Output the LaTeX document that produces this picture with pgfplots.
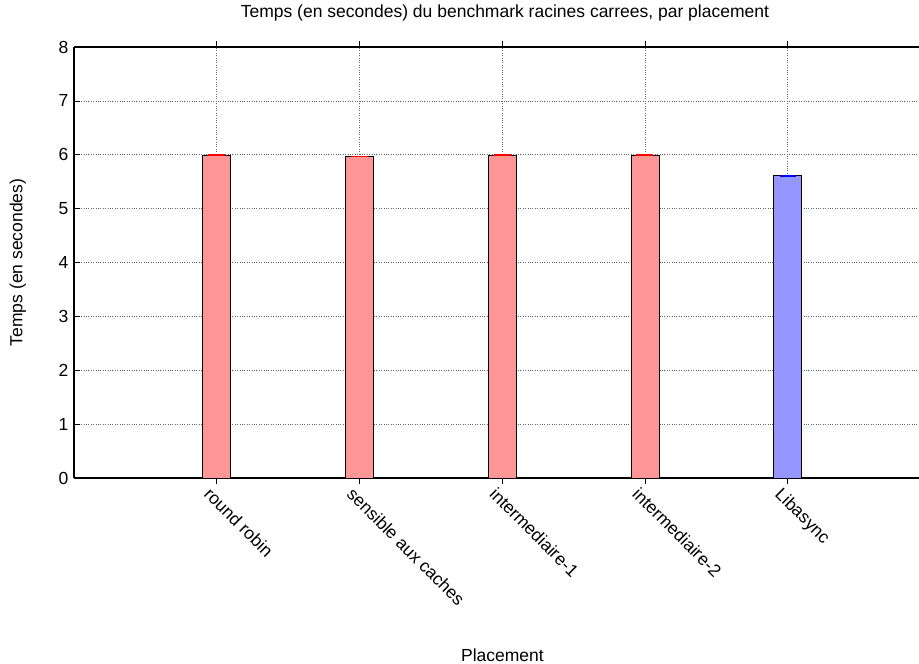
\documentclass[border=0pt]{standalone}
\usepackage{fontspec}
\setmainfont{Liberation Sans}
\usepackage{pgfplots}
\pgfplotsset{compat=1.18}
\definecolor{barred}{RGB}{255,150,150}
\definecolor{barblue}{RGB}{150,150,255}
\newcommand{\chartfont}{\fontsize{17.5}{20}\selectfont}
\begin{document}
\begin{tikzpicture}
\begin{axis}[
  scale only axis,
  width=845pt, height=431pt,
  xmin=-1, xmax=4.92,
  ymin=0, ymax=8,
  ytick={0,1,...,8},
  xtick={0,1,2,3,4},
  xticklabels={round robin, sensible aux caches, intermediaire-1, intermediaire-2, Libasync},
  axis x line=box,
  axis y line*=left,
  axis line style={line width=1.2pt},
  tick style={black, line width=0.6pt},
  major tick length=6pt,
  tick align=inside,
  grid=major,
  major grid style={dotted, black!60, line width=0.6pt},
  font=\chartfont,
  /pgf/number format/assume math mode=true,
  yticklabel style={font=\chartfont, xshift=-2pt},
  xticklabel style={xshift=-16pt, yshift=-9pt, rotate=-45, anchor=base west, font=\chartfont},
  title={Temps (en secondes) du benchmark racines carrees, par placement},
  title style={at={(axis description cs:0.51,1.065)}, anchor=center, font=\chartfont},
  ylabel={Temps (en secondes)},
  every axis y label/.style={at={(axis description cs:-0.0663,0.5)}, rotate=90, anchor=center, font=\chartfont},
  xlabel={Placement},
  every axis x label/.style={at={(axis description cs:0.507,-0.425)}, anchor=base, font=\chartfont},
  ybar, bar width=28pt, bar shift=0pt,
  clip=false,
]
% execution times per placement policy
\addplot[draw=black, fill=barred, line width=0.7pt]
  coordinates {(0,5.99) (1,5.97) (2,5.99) (3,5.99)};
\addplot[draw=black, fill=barblue, line width=0.7pt]
  coordinates {(4,5.61)};
% spread of the measurements (very small), drawn as a short bar at the top
\addplot[only marks, mark=-, mark size=8.5pt, mark options={draw=red, line width=1.6pt}]
  coordinates {(0,5.99) (1,5.97) (2,5.99) (3,5.99)};
\addplot[only marks, mark=-, mark size=8pt, mark options={draw=blue, line width=1.6pt}]
  coordinates {(4,5.61)};
\coordinate (o) at (rel axis cs:0,0);
\coordinate (t) at (rel axis cs:1,1);
\end{axis}
\pgfresetboundingbox
\path ([shift={(-74pt,-186pt)}]o) rectangle ([shift={(0pt,47pt)}]t);
\end{tikzpicture}
\end{document}
